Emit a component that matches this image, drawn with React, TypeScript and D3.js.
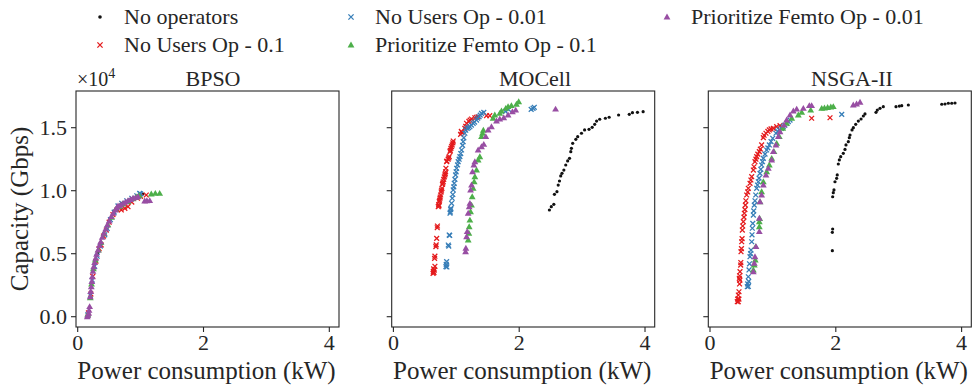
import React from "react";
import * as d3 from "d3";

type P = [number, number];

const panelTitles = ["BPSO", "MOCell", "NSGA-II"];
const seriesNames = [
  "No operators",
  "No Users Op - 0.1",
  "No Users Op - 0.01",
  "Prioritize Femto Op - 0.1",
  "Prioritize Femto Op - 0.01",
];
const seriesColors = ["#111111", "#e41a1c", "#377eb8", "#4daf4a", "#984ea3"];
const seriesMarkers = ["dot", "x", "x", "tri", "tri"];
const xTicks = [0, 2, 4];
const xTickLabels = ["0", "2", "4"];
const yTicks = [0, 5000, 10000, 15000];
const yTickLabels = ["0.0", "0.5", "1.0", "1.5"];

// ---- BPSO ----
const bpsoNoOp: P[] = [
  [0.16, 100], [0.21, 2000], [0.26, 3900], [0.32, 5100], [0.4, 6400], [0.5, 7600],
  [0.6, 8500], [0.7, 9000], [0.85, 9350], [0.95, 9550], [1.038, 9740],
];
const bpsoUsers01: P[] = [
  [0.17, 300], [0.21, 1800], [0.24, 3200], [0.29, 4400], [0.34, 5400], [0.375, 5690],
  [0.41, 6400], [0.455, 6880], [0.5, 7500], [0.56, 8100], [0.63, 8500], [0.693, 8470],
  [0.75, 8600], [0.8, 8730], [0.86, 9100], [0.95, 9400], [1.0, 9550], [1.09, 9660],
];
const bpsoUsers001: P[] = [
  [0.16, 150], [0.2, 1700], [0.23, 2900], [0.27, 4000], [0.31, 4800], [0.36, 5600],
  [0.43, 6500], [0.47, 7000], [0.52, 7700], [0.58, 8300], [0.64, 8800], [0.7, 9000],
  [0.78, 9200], [0.86, 9400], [0.94, 9600], [0.985, 9790], [1.0, 9750],
];
const bpsoFemto01: P[] = [
  [0.16, 200], [0.2, 1500], [0.22, 2600], [0.25, 3800], [0.28, 4500], [0.33, 5300],
  [0.37, 5900], [0.42, 6600], [0.48, 7300], [0.54, 7900], [0.6, 8500], [0.66, 8750],
  [0.72, 8950], [0.8, 9150], [0.88, 9350], [0.93, 9500], [0.98, 9600], [1.17, 9740],
  [1.234, 9790], [1.303, 9790],
];
const bpsoFemto001: P[] = [
  [0.153, 0], [0.16, 100], [0.175, 270], [0.18, 500], [0.19, 800], [0.2, 1590],
  [0.208, 2000], [0.216, 2380], [0.225, 2800], [0.232, 3170], [0.243, 3600],
  [0.254, 3970], [0.27, 4300], [0.286, 4630], [0.3, 4950], [0.323, 5290],
  [0.345, 5650], [0.366, 5950], [0.39, 6300], [0.418, 6620], [0.445, 6950],
  [0.471, 7280], [0.5, 7600], [0.534, 7940], [0.565, 8200], [0.598, 8470],
  [0.62, 8650], [0.641, 8790], [0.68, 8850], [0.72, 9000], [0.76, 9100], [0.8, 9210],
  [0.84, 9300], [0.879, 9400], [0.92, 9450], [0.959, 9520], [1.065, 9180],
  [1.1, 9200], [1.145, 9210],
];

// ---- MOCell ----
const mocellNoOp: P[] = [
  [2.48, 8470], [2.51, 8730], [2.55, 8920], [2.56, 9710], [2.6, 9920], [2.62, 10450],
  [2.64, 10770], [2.66, 11170], [2.68, 11380], [2.71, 11640], [2.74, 12040],
  [2.77, 12360], [2.8, 12570], [2.82, 13100], [2.83, 13360], [2.85, 13760],
  [2.9, 14080], [2.93, 14290], [2.99, 14560], [3.04, 14820], [3.11, 14870],
  [3.16, 15030], [3.2, 15270], [3.23, 15530], [3.28, 15670], [3.37, 15750],
  [3.43, 15830], [3.58, 16010], [3.75, 16060], [3.8, 16190], [3.88, 16220], [3.97, 16270],
];
const mocellUsers01: P[] = [
  [0.63, 3440], [0.635, 3600], [0.64, 3800], [0.645, 3500], [0.65, 3700], [0.66, 4000],
  [0.655, 4630], [0.66, 4800], [0.675, 5560], [0.68, 5700], [0.688, 6220], [0.697, 7060],
  [0.7, 7200], [0.713, 8730], [0.72, 8900], [0.725, 8800], [0.729, 9130], [0.735, 9250],
  [0.74, 9400], [0.745, 9500], [0.751, 9660], [0.76, 9900], [0.765, 10050], [0.772, 10190],
  [0.78, 10500], [0.785, 10600], [0.792, 10710], [0.8, 10900], [0.81, 11100], [0.819, 11250],
  [0.825, 11350], [0.83, 11500], [0.835, 11780], [0.846, 12300], [0.85, 12350], [0.87, 12500],
  [0.88, 12600], [0.887, 12700], [0.9, 13100], [0.905, 13200], [0.914, 13360], [0.925, 13500],
  [0.935, 13630], [0.945, 13800], [0.951, 13940], [1.068, 14470], [1.08, 14700], [1.09, 14600],
  [1.136, 14950], [1.15, 15100], [1.163, 15350], [1.2, 15500], [1.22, 15600], [1.242, 15690],
  [1.295, 15790], [1.32, 15830], [1.347, 15870], [1.48, 15950], [1.532, 15950],
];
const mocellUsers001: P[] = [
  [0.835, 3970], [0.84, 4150], [0.846, 4370], [0.85, 3950], [0.872, 5690], [0.88, 5600],
  [0.887, 6480], [0.895, 6450], [0.9, 8210], [0.905, 8300], [0.91, 8500], [0.914, 8600],
  [0.925, 9000], [0.935, 9400], [0.945, 9700], [0.951, 10060], [0.96, 10300], [0.967, 10590],
  [0.978, 10900], [0.989, 11250], [0.997, 11500], [1.005, 11780], [1.02, 12050], [1.03, 12300],
  [1.045, 12500], [1.057, 12700], [1.07, 12950], [1.084, 13230], [1.1, 13600], [1.109, 13890],
  [1.12, 14200], [1.136, 14560], [1.15, 14800], [1.173, 14950], [1.195, 15000], [1.216, 15080],
  [1.24, 15200], [1.268, 15350], [1.29, 15450], [1.322, 15610], [1.34, 15750], [1.363, 15870],
  [1.38, 16000], [1.401, 16140], [1.437, 16220], [1.78, 16300], [1.83, 16450], [2.19, 16450],
  [2.22, 16540], [2.24, 16620],
];
const mocellFemto01: P[] = [
  [1.189, 6090], [1.2, 6620], [1.205, 7140], [1.216, 7670], [1.227, 8330], [1.242, 8860],
  [1.253, 9520], [1.268, 10190], [1.284, 10710], [1.295, 11110], [1.322, 11640],
  [1.347, 12440], [1.374, 12700], [1.401, 14290], [1.417, 14560], [1.43, 14800],
  [1.585, 15750], [1.612, 16010], [1.691, 16140], [1.718, 16330], [1.786, 16540],
  [1.823, 16670], [1.876, 16750], [1.956, 16860], [1.992, 17060],
];
const mocellFemto001: P[] = [
  [1.147, 5160], [1.152, 5430], [1.163, 6350], [1.173, 6750], [1.189, 8210],
  [1.205, 8730], [1.216, 9000], [1.227, 10060], [1.242, 10450], [1.258, 11510],
  [1.279, 12040], [1.295, 12300], [1.347, 13230], [1.401, 13490], [1.437, 13680],
  [1.469, 14290], [1.506, 14820], [1.559, 15080], [1.639, 15530], [1.691, 15690],
  [1.754, 15790], [1.823, 16010], [1.892, 16270], [1.944, 16400], [2.578, 16480],
];

// ---- NSGA-II ----
const nsgaNoOp: P[] = [
  [1.945, 5240], [1.945, 6700], [1.95, 6960], [1.95, 9520], [1.96, 9840], [1.971, 10060],
  [1.987, 10710], [2.013, 10980], [2.023, 11250], [2.04, 12120], [2.056, 12440],
  [2.078, 12700], [2.119, 12970], [2.146, 13280], [2.162, 13630], [2.199, 13890],
  [2.215, 14210], [2.226, 14420], [2.258, 14820], [2.279, 15000], [2.316, 15270],
  [2.358, 15530], [2.401, 15690], [2.438, 15930], [2.464, 16090], [2.639, 16220],
  [2.66, 16400], [2.703, 16540], [2.755, 16670], [2.957, 16670], [3.01, 16720],
  [3.048, 16750], [3.153, 16800], [3.684, 16860], [3.736, 16880], [3.789, 16940],
  [3.843, 16940], [3.895, 16960],
];
const nsgaUsers01: P[] = [
  [0.434, 1190], [0.44, 1400], [0.45, 1190], [0.46, 1400], [0.45, 1720], [0.461, 1980],
  [0.466, 3050], [0.47, 3250], [0.47, 2600], [0.475, 2900], [0.477, 3570], [0.488, 4100],
  [0.49, 4300], [0.493, 5160], [0.5, 5400], [0.504, 5950], [0.51, 6200], [0.514, 6880],
  [0.52, 7200], [0.53, 7540], [0.54, 7900], [0.546, 8210], [0.555, 8500], [0.562, 8860],
  [0.57, 9200], [0.583, 9660], [0.6, 9900], [0.609, 10190], [0.636, 10590], [0.65, 10850],
  [0.663, 11110], [0.689, 11640], [0.7, 11900], [0.715, 12300], [0.73, 12500], [0.742, 12700],
  [0.76, 12900], [0.784, 13100], [0.8, 13300], [0.821, 13630], [0.848, 14210], [0.86, 14400],
  [0.89, 14560], [0.92, 14700], [0.943, 14820], [0.97, 14900], [1.007, 14950], [1.06, 15080],
  [1.113, 15160], [1.616, 15750], [1.908, 15790],
];
const nsgaUsers001: P[] = [
  [0.593, 2380], [0.6, 2600], [0.61, 2400], [0.615, 2800], [0.609, 3170], [0.62, 3710],
  [0.628, 4200], [0.636, 4760], [0.645, 5000], [0.652, 5290], [0.663, 5950], [0.668, 6500],
  [0.673, 7020], [0.68, 7400], [0.689, 8070], [0.695, 8400], [0.704, 8860], [0.715, 9200],
  [0.727, 9660], [0.742, 10190], [0.755, 10450], [0.768, 10710], [0.78, 11000], [0.795, 11380],
  [0.808, 11700], [0.821, 12040], [0.835, 12300], [0.848, 12570], [0.875, 12900], [0.901, 13230],
  [0.92, 13400], [0.943, 13630], [0.97, 13900], [0.997, 14160], [1.049, 14560], [1.075, 14700],
  [1.102, 14820], [1.135, 14950], [1.165, 15080], [1.19, 15200], [1.219, 15350], [1.245, 15480],
  [1.272, 15610], [2.094, 16060],
];
const nsgaFemto01: P[] = [
  [0.689, 3710], [0.704, 4100], [0.72, 4500], [0.727, 5560], [0.784, 7140], [0.784, 7540],
  [0.79, 7800], [0.795, 9130], [0.821, 9920], [0.848, 10710], [0.901, 11510],
  [0.943, 12040], [0.981, 12570], [1.017, 13100], [1.06, 13760], [1.102, 14290],
  [1.156, 14950], [1.219, 15350], [1.299, 15750], [1.404, 16010], [1.458, 16220],
  [1.601, 16400], [1.776, 16540], [1.82, 16560], [1.87, 16600], [1.92, 16640], [1.96, 16670],
];
const nsgaFemto001: P[] = [
  [0.689, 3570], [0.704, 4240], [0.715, 4760], [0.731, 5560], [0.784, 6750], [0.784, 7810],
  [0.795, 9130], [0.821, 9660], [0.848, 10450], [0.89, 11250], [0.927, 11780],
  [0.981, 12440], [1.007, 13100], [1.049, 13630], [1.086, 14290], [1.113, 14680],
  [1.176, 15210], [1.219, 15610], [1.272, 16010], [1.325, 16330], [1.378, 16480],
  [1.484, 16540], [1.579, 16750], [1.616, 16750], [2.278, 16800], [2.33, 16880], [2.385, 17020],
];

const panelData: P[][][] = [
  [bpsoNoOp, bpsoUsers01, bpsoUsers001, bpsoFemto01, bpsoFemto001],
  [mocellNoOp, mocellUsers01, mocellUsers001, mocellFemto01, mocellFemto001],
  [nsgaNoOp, nsgaUsers01, nsgaUsers001, nsgaFemto01, nsgaFemto001],
];

const W = 972;
const H = 387;
const FONT = "Liberation Serif, DejaVu Serif, serif";
const TXT = "#262626";
const panelLefts = [76, 391.7, 708.3];
const panelW = 263;
const top = 91;
const bottom = 327;
const titleCx = [213, 535, 852];

const triPath = d3.symbol(d3.symbolTriangle, 20)() as string;
const triLegend = d3.symbol(d3.symbolTriangle, 20)() as string;

function Marker({ kind, color, x, y, big }: { kind: string; color: string; x: number; y: number; big?: boolean }) {
  if (kind === "dot") return <circle cx={x} cy={y} r={big ? 1.8 : 1.6} fill={color} />;
  if (kind === "x") {
    const a = big ? 2.6 : 2.4;
    return (
      <path
        d={`M${x - a},${y - a}L${x + a},${y + a}M${x - a},${y + a}L${x + a},${y - a}`}
        stroke={color}
        strokeWidth={1.3}
        fill="none"
      />
    );
  }
  return <path d={big ? triLegend : triPath} transform={`translate(${x},${y + 0.5})`} fill={color} />;
}

export default function App() {
  const y = d3.scaleLinear().domain([-817, 17913]).range([bottom, top]);
  return (
    <svg width={W} height={H} style={{ position: "absolute", left: 0, top: 0 }} fontFamily={FONT}>
      <rect width={W} height={H} fill="#fff" />
      {seriesNames.map((name, i) => {
        const col = Math.floor(i / 2);
        const row = i % 2;
        const mx = [100, 351, 667][col];
        const cy = [17, 45][row];
        return (
          <g key={name}>
            <Marker kind={seriesMarkers[i]} color={seriesColors[i]} x={mx} y={cy} big />
            <text x={mx + 24} y={cy + 7} fontSize={22} fill={TXT} style={{ fontFamily: FONT }}>
              {name}
            </text>
          </g>
        );
      })}
      {panelTitles.map((title, p) => {
        const left = panelLefts[p];
        const x = d3.scaleLinear().domain([-0.027, 4.154]).range([left, left + panelW]);
        return (
          <g key={title}>
            <text x={titleCx[p]} y={86} fontSize={22} textAnchor="middle" fill={TXT} style={{ fontFamily: FONT }}>
              {title}
            </text>
            <g>
              {panelData[p].map((ser, s) =>
                ser.map((d, k) => (
                  <Marker key={`${s}-${k}`} kind={seriesMarkers[s]} color={seriesColors[s]} x={x(d[0])} y={y(d[1])} />
                ))
              )}
            </g>
            <rect x={left} y={top} width={panelW} height={bottom - top} fill="none" stroke={TXT} strokeWidth={1.1} />
            {xTicks.map((t, i) => (
              <g key={t}>
                <line x1={x(t)} x2={x(t)} y1={bottom} y2={bottom + 5} stroke={TXT} strokeWidth={1.1} />
                <text x={x(t)} y={350} fontSize={22} textAnchor="middle" fill={TXT} style={{ fontFamily: FONT }}>
                  {xTickLabels[i]}
                </text>
              </g>
            ))}
            {yTicks.map((t, i) => (
              <g key={t}>
                <line x1={left - 5} x2={left} y1={y(t)} y2={y(t)} stroke={TXT} strokeWidth={1.1} />
                {p === 0 && (
                  <text x={left - 9} y={y(t) + 7} fontSize={22} textAnchor="end" fill={TXT} style={{ fontFamily: FONT }}>
                    {yTickLabels[i]}
                  </text>
                )}
              </g>
            ))}
            <text x={left + panelW / 2 - 1} y={379} fontSize={25} textAnchor="middle" fill={TXT} style={{ fontFamily: FONT }}>
              Power consumption (kW)
            </text>
          </g>
        );
      })}
      <text x={77} y={86} fontSize={20} fill={TXT} style={{ fontFamily: FONT }}>
        ×10
        <tspan dy={-8} fontSize={14}>
          4
        </tspan>
      </text>
      <text
        transform={`translate(28,${(top + bottom) / 2}) rotate(-90)`}
        fontSize={25}
        textAnchor="middle"
        fill={TXT}
        style={{ fontFamily: FONT }}
      >
        Capacity (Gbps)
      </text>
    </svg>
  );
}
